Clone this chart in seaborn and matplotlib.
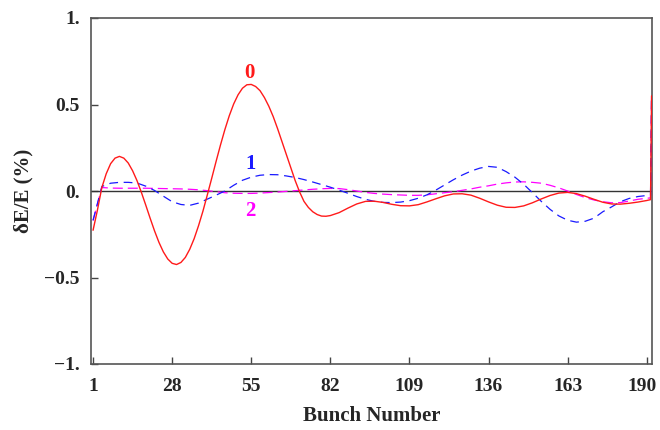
import matplotlib
matplotlib.use("Agg")
import matplotlib.pyplot as plt
import matplotlib.transforms as mtransforms
import seaborn as sns
import pandas as pd

# Bunch positions for modes 1 and 2 (sampled) and the final wrap-around point
bunch = [1, 4, 7, 10, 13, 16, 19, 22, 25, 28, 31, 34, 37, 40, 43, 46, 49, 52, 55, 58,
         61, 64, 67, 70, 73, 76, 79, 82, 85, 88, 91, 94, 97, 100, 103, 106, 109, 112, 115, 118,
         121, 124, 127, 130, 133, 136, 139, 142, 145, 148, 151, 154, 157, 160, 163, 166, 169, 172, 175, 178,
         181, 184, 187, 190, 191.3, 191.65]

mode1 = [-0.17, 0.026, 0.045, 0.05, 0.05, 0.046, 0.028, 0.003, -0.03, -0.062,
         -0.078, -0.083, -0.07, -0.047, -0.024, 0.0, 0.033, 0.062, 0.08, 0.091,
         0.095, 0.094, 0.087, 0.078, 0.066, 0.052, 0.037, 0.022, 0.005, -0.013,
         -0.032, -0.048, -0.06, -0.066, -0.067, -0.064, -0.056, -0.042, -0.022, 0.005,
         0.035, 0.065, 0.092, 0.115, 0.132, 0.142, 0.137, 0.112, 0.08, 0.039,
         -0.010, -0.060, -0.106, -0.144, -0.169, -0.180, -0.175, -0.157, -0.12, -0.092,
         -0.062, -0.043, -0.032, -0.026, -0.024, 0.55]

mode2 = [-0.17, 0.02, 0.017, 0.016, 0.016, 0.016, 0.016, 0.015, 0.014, 0.013,
         0.012, 0.01, 0.007, 0.002, -0.004, -0.01, -0.013, -0.014, -0.014, -0.012,
         -0.009, -0.006, -0.002, 0.002, 0.006, 0.01, 0.013, 0.015, 0.014, 0.008,
         0.0, -0.008, -0.014, -0.018, -0.021, -0.023, -0.025, -0.025, -0.022, -0.016,
         -0.01, -0.004, 0.004, 0.012, 0.022, 0.03, 0.04, 0.047, 0.052, 0.053,
         0.05, 0.045, 0.033, 0.018, 0.0, -0.02, -0.038, -0.052, -0.062, -0.068,
         -0.067, -0.058, -0.048, -0.042, -0.04, 0.55]

# Mode 0 is read more densely where it oscillates strongly
bunch0 = [1, 2.5, 4, 5.5, 7, 8.5, 10, 11.5, 13, 14.5, 16, 17.5, 19, 20.5, 22, 23.5, 25, 26.5, 28,
          29.5, 31, 32.5, 34, 35.5, 37, 38.5, 40, 41.5, 43, 44.5, 46, 47.5, 49, 50.5, 52, 53.5,
          55, 56.5, 58, 59.5, 61, 62.5, 64, 65.5, 67, 68.5, 70, 71.5, 73, 74.5, 76, 77.5, 79, 80.5, 82,
          85, 88, 91, 94, 97, 100, 103, 106, 109, 112, 115, 118, 121, 124, 127, 130, 133, 136,
          139, 142, 145, 148, 151, 154, 157, 160, 163, 166, 169, 172, 175, 178, 181, 184, 187, 190,
          191.3, 191.65]

mode0 = [-0.227, -0.11, 0.02, 0.10, 0.158, 0.19, 0.20, 0.19, 0.162, 0.117, 0.06, -0.008, -0.082,
         -0.158, -0.231, -0.297, -0.352, -0.393, -0.418,
         -0.425, -0.413, -0.384, -0.337, -0.276, -0.201, -0.117, -0.023, 0.073, 0.171, 0.266,
         0.355, 0.435, 0.503, 0.556, 0.594, 0.614,
         0.616, 0.604, 0.58, 0.54, 0.49, 0.43, 0.36, 0.285, 0.21, 0.135, 0.06, -0.005, -0.06,
         -0.095, -0.12, -0.136, -0.145, -0.146, -0.142,
         -0.125, -0.099, -0.075, -0.06, -0.059, -0.066, -0.077, -0.085, -0.086, -0.079, -0.063,
         -0.045, -0.028, -0.017, -0.016, -0.024, -0.042, -0.063,
         -0.082, -0.094, -0.095, -0.086, -0.068, -0.046, -0.026, -0.012, -0.008, -0.015, -0.030,
         -0.048, -0.065, -0.075, -0.076, -0.071, -0.064, -0.055,
         -0.05, 0.55]

xticks = [1, 28, 55, 82, 109, 136, 163, 190]
yticks = [-1.0, -0.5, 0.0, 0.5, 1.0]
ytick_labels = ["\u22121.", "\u22120.5", "0.", "0.5", "1."]
mode_labels = ["0", "1", "2"]

sns.set_theme(style="white")
plt.rcParams['font.family'] = ['Liberation Serif', 'DejaVu Serif']
plt.rcParams['font.weight'] = 'bold'

fig = plt.figure(figsize=(6.6, 4.3), dpi=100)
ax = fig.add_axes([91/660, 1 - 364/430, (652 - 91)/660, (364 - 18)/430])

ax.axhline(0, color="#333333", lw=1.0, zorder=1)

df = pd.DataFrame({"bunch": bunch, "m1": mode1, "m2": mode2})
df0 = pd.DataFrame({"bunch": bunch0, "m0": mode0})
sns.lineplot(data=df, x="bunch", y="m2", ax=ax, color="#ff00ff", lw=0.9,
             linestyle=(0, (8, 4)), zorder=2)
sns.lineplot(data=df, x="bunch", y="m1", ax=ax, color="#1a1aff", lw=0.9,
             linestyle=(0, (7, 4.5)), zorder=3)
sns.lineplot(data=df0, x="bunch", y="m0", ax=ax, color="#ff1a1a", lw=1.0, zorder=4)

ax.text(54.4, 0.68, mode_labels[0], color="#ff1a1a", fontsize=15, fontweight="bold",
        ha="center", va="center")
ax.text(54.7, 0.155, mode_labels[1], color="#1a1aff", fontsize=15, fontweight="bold",
        ha="center", va="center")
ax.text(54.7, -0.116, mode_labels[2], color="#ff00ff", fontsize=15, fontweight="bold",
        ha="center", va="center")

ax.set_xlim(0.3, 191.8)
ax.set_ylim(-1.0, 1.0)
ax.set_xticks(xticks)
ax.set_xticklabels([str(t) for t in xticks])
ax.set_yticks(yticks)
ax.set_yticklabels(ytick_labels)

ax.tick_params(axis="both", direction="in", length=5, width=1.0, color="#444444",
               labelsize=14, bottom=True, left=True, top=False, right=False)
ax.tick_params(axis="x", pad=10)
ax.tick_params(axis="y", pad=8)
for lab in ax.get_xticklabels() + ax.get_yticklabels():
    lab.set_fontweight("bold")

# nudge the last x tick label so it stays inside the figure
last = ax.get_xticklabels()[-1]
last.set_transform(last.get_transform() +
                   mtransforms.ScaledTranslation(-3/72, 0, fig.dpi_scale_trans))

for sp in ax.spines.values():
    sp.set_color("#555555")
    sp.set_linewidth(1.2)

ax.set_xlabel("Bunch Number", fontsize=15, fontweight="bold", labelpad=8)
ax.set_ylabel("\u03b4E/E (%)", fontsize=15, fontweight="bold", labelpad=8)

fig.savefig("out.png", dpi=100, facecolor="white")
